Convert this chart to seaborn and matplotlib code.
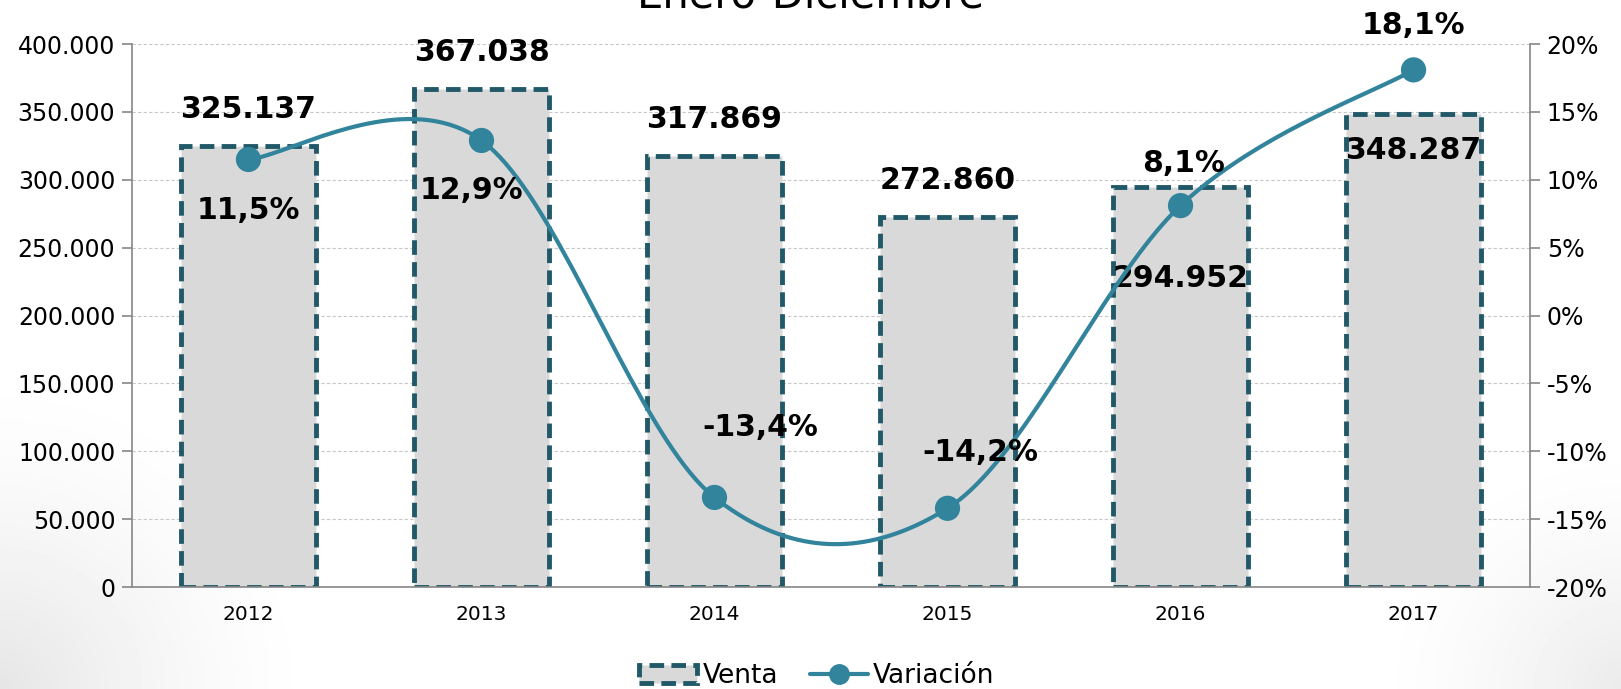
import seaborn as sns
import matplotlib.pyplot as plt
import matplotlib.ticker as mticker
from matplotlib.patches import Patch
from matplotlib.lines import Line2D
import numpy as np

# --- data ---
years = ["2012", "2013", "2014", "2015", "2016", "2017"]
venta = [325137, 367038, 317869, 272860, 294952, 348287]
variacion = [11.5, 12.9, -13.4, -14.2, 8.1, 18.1]

# label offsets (points) -- style only
venta_off = [26, 26, 26, 26, -66, -26]
var_off = [(0, -37), (-7, -36), (33, 50), (24, 40), (2, 30), (0, 32)]

bar_fill = "#D9D9D9"
bar_edge = "#215968"
line_col = "#31849B"
axis_col = "#868686"

sns.set_style("white")
plt.rcParams["font.family"] = ["DejaVu Sans"]
for k in ["text.color", "axes.labelcolor", "xtick.color", "ytick.color"]:
    plt.rcParams[k] = "black"


def fmt_miles(v, pos=None):
    return f"{int(round(v)):,}".replace(",", ".")


def fmt_pct(v):
    return f"{v:.1f}%".replace(".", ",")


def catmull_rom(x, y, n=40):
    # Excel-like smoothed line
    px = np.r_[x[0], x, x[-1]]
    py = np.r_[y[0], y, y[-1]]
    xs, ys = [], []
    t = np.linspace(0, 1, n)
    h00 = 2 * t**3 - 3 * t**2 + 1
    h10 = t**3 - 2 * t**2 + t
    h01 = -2 * t**3 + 3 * t**2
    h11 = t**3 - t**2
    for i in range(1, len(px) - 2):
        mx1 = (px[i + 1] - px[i - 1]) / 2
        mx2 = (px[i + 2] - px[i]) / 2
        my1 = (py[i + 1] - py[i - 1]) / 2
        my2 = (py[i + 2] - py[i]) / 2
        xs.append(h00 * px[i] + h10 * mx1 + h01 * px[i + 1] + h11 * mx2)
        ys.append(h00 * py[i] + h10 * my1 + h01 * py[i + 1] + h11 * my2)
    return np.concatenate(xs), np.concatenate(ys)


fig = plt.figure(figsize=(16.21, 6.89), dpi=100)

# soft grey shading in the lower corners
bg = fig.add_axes([0, 0, 1, 1], zorder=-10)
gx, gy = np.meshgrid(np.arange(1621), np.arange(689))
d_left = np.hypot(gx, gy - 689) / 330
d_right = np.hypot(gx - 1621, gy - 689) / 260
shade = 0.10 * np.clip(1 - d_left, 0, 1) ** 1.5 + 0.08 * np.clip(1 - d_right, 0, 1) ** 1.5
bg.imshow(1 - shade, cmap="gray", vmin=0, vmax=1, aspect="auto", interpolation="bilinear")
bg.axis("off")

ax = fig.add_axes([0.0814, 0.148, 0.8625, 0.788])
ax.patch.set_alpha(0)

sns.barplot(x=years, y=venta, color=bar_fill, width=0.58, saturation=1, ax=ax, zorder=2)
for p in ax.patches:
    p.set_edgecolor(bar_edge)
    p.set_linewidth(3.5)
    p.set_linestyle((0, (3, 1.5)))

ax.set_ylim(0, 400000)
ax.set_xlim(-0.5, len(years) - 0.5)
ax.yaxis.set_major_locator(mticker.MultipleLocator(50000))
ax.yaxis.set_major_formatter(mticker.FuncFormatter(fmt_miles))
ax.grid(axis="y", color="#C8C8C8", linestyle=(0, (3, 2)), linewidth=0.8, zorder=0)
ax.set_axisbelow(True)
ax.set_xlabel("")
ax.set_ylabel("")
ax.tick_params(axis="y", labelsize=17, length=7, color=axis_col, width=1.2, pad=5)
ax.tick_params(axis="x", labelsize=14.5, length=0, pad=13)
ax.xaxis.set_minor_locator(mticker.FixedLocator(np.arange(-0.5, len(years), 1)))
ax.tick_params(axis="x", which="minor", length=7, color=axis_col, width=1.2)
for s in ["top", "right"]:
    ax.spines[s].set_visible(False)
for s in ["left", "bottom"]:
    ax.spines[s].set_color(axis_col)
    ax.spines[s].set_linewidth(1.2)

for i, v in enumerate(venta):
    ax.annotate(fmt_miles(v), (i, v), xytext=(0, venta_off[i]), textcoords="offset points",
                ha="center", va="center", fontsize=21.5, fontweight="bold", zorder=5)

ax2 = ax.twinx()
ax2.set_position(ax.get_position())
xs, ys = catmull_rom(np.arange(len(years), dtype=float), np.array(variacion))
ax2.plot(xs, ys, color=line_col, linewidth=3, zorder=3)
sns.scatterplot(x=np.arange(len(years)), y=variacion, color=line_col, s=330,
                edgecolor="none", ax=ax2, zorder=4)
ax2.set_ylim(-20, 20)
ax2.yaxis.set_major_locator(mticker.MultipleLocator(5))
ax2.yaxis.set_major_formatter(mticker.FuncFormatter(lambda v, p: f"{int(round(v))}%"))
ax2.tick_params(axis="y", labelsize=17, length=7, color=axis_col, width=1.2, pad=5)
for s in ["top", "left", "bottom"]:
    ax2.spines[s].set_visible(False)
ax2.spines["right"].set_color(axis_col)
ax2.spines["right"].set_linewidth(1.2)

for i, v in enumerate(variacion):
    ax2.annotate(fmt_pct(v), (i, v), xytext=var_off[i], textcoords="offset points",
                 ha="center", va="center", fontsize=21.5, fontweight="bold", zorder=5)

fig.text(0.5, 1 - 8 / 689, "Enero-Diciembre", ha="center", va="baseline", fontsize=30)

handles = [
    Patch(facecolor=bar_fill, edgecolor=bar_edge, linewidth=3.5, linestyle=(0, (3, 1.5))),
    Line2D([0], [0], color=line_col, linewidth=3, marker="o", markersize=14),
]
fig.legend(handles, ["Venta", "Variación"], loc="center", bbox_to_anchor=(0.504, 1 - 676 / 689),
           ncol=2, frameon=False, fontsize=19, handlelength=2.2, handletextpad=0.2,
           columnspacing=1.2)

fig.savefig("out.png", dpi=100)
